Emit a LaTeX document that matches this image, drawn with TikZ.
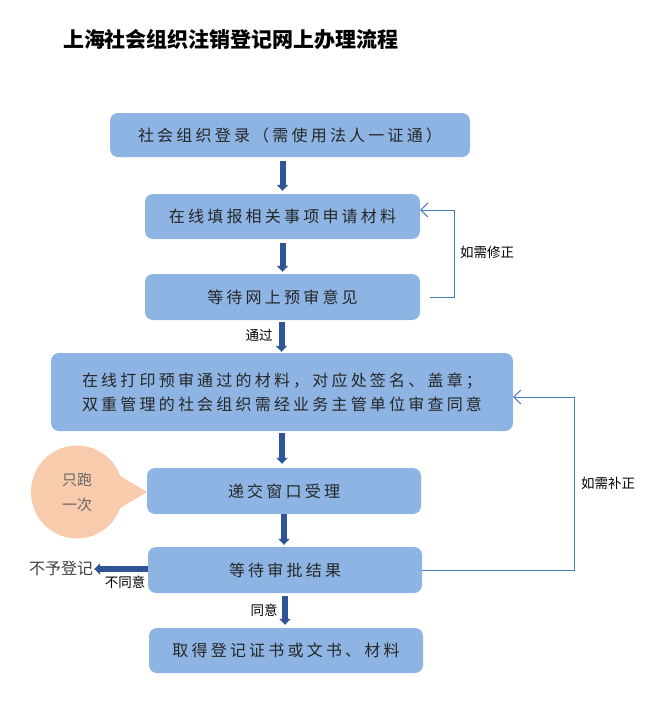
\documentclass[tikz,border=0pt]{standalone}
\usepackage{fontspec}
\newfontfamily\cjk{Noto Sans CJK SC}
\newfontfamily\cjkls[LetterSpace=20]{Noto Sans CJK SC}
\usetikzlibrary{arrows.meta,shapes.callouts,calc}
\definecolor{boxblue}{HTML}{8DB4E3}
\definecolor{arrowblue}{HTML}{2F5597}
\definecolor{lineblue}{HTML}{4A7EBB}
\definecolor{peach}{HTML}{F8CBAD}
\definecolor{txt}{HTML}{262626}
\tikzset{
  stepbox/.style={fill=boxblue, rounded corners=8pt, inner sep=0pt, text=txt,
    font=\cjkls\fontsize{16}{24}\selectfont},
  bigarrow/.style={draw=arrowblue, line width=6pt, -{Triangle[length=6pt,width=11pt]}},
  backline/.style={draw=lineblue, line width=1pt, -{Straight Barb[length=7pt,width=14pt]}},
  lbl/.style={font=\cjk\fontsize{13.5}{16}\selectfont, text=black, inner sep=0pt},
}
\begin{document}
\begin{tikzpicture}[x=1pt,y=-1pt]
\useasboundingbox (0,0) rectangle (650,726);
\node[font=\cjk\bfseries\fontsize{21}{24}\selectfont] (title) at (231,40) {上海社会组织注销登记网上办理流程};

\node[stepbox, minimum width=360pt, minimum height=44pt] (b1) at (290,135) {社会组织登录（需使用法人一证通）};
\node[stepbox, minimum width=275pt, minimum height=45pt] (b2) at (282.5,216.5) {在线填报相关事项申请材料};
\node[stepbox, minimum width=275pt, minimum height=46pt] (b3) at (282.5,297) {等待网上预审意见};
\node[stepbox, minimum width=462pt, minimum height=78pt, align=left] (b4) at (282,392) {在线打印预审通过的材料，对应处签名、盖章；\\双重管理的社会组织需经业务主管单位审查同意};
\node[stepbox, minimum width=274pt, minimum height=46pt] (b5) at (284,491) {递交窗口受理};
\node[stepbox, minimum width=274pt, minimum height=46pt] (b6) at (285,570) {等待审批结果};
\node[stepbox, minimum width=274pt, minimum height=45pt] (b7) at (286,650.5) {取得登记证书或文书、材料};

\coordinate (tip) at (147,492);
\node[ellipse callout, fill=peach, minimum width=92pt, minimum height=93pt,
  callout absolute pointer={(tip)}, callout pointer arc=40, align=center, text=black!60,
  font=\cjk\fontsize{15}{25}\selectfont] (bub) at (77,492) {只跑\\一次};

\node[font=\cjk\fontsize{16}{18}\selectfont, text=black!75, inner sep=0pt] (no) at (61,568) {不予登记};

\draw[bigarrow, shorten <=4pt, shorten >=3pt] (b1.south -| b2.north) -- (b2.north);
\draw[bigarrow, shorten <=4pt, shorten >=2pt] (b2.south) -- (b3.north);
\draw[bigarrow, shorten <=2pt, shorten >=1pt] ([xshift=-1pt]b3.south) -- ([xshift=-1pt]b3.south |- b4.north);
\draw[bigarrow, shorten <=2pt, shorten >=4pt] (b4.south) -- (b4.south |- b5.north);
\draw[bigarrow, shorten <=0pt, shorten >=2pt] ([xshift=-1pt]b6.north |- b5.south) -- ([xshift=-1pt]b6.north);
\draw[bigarrow, shorten <=3pt, shorten >=3pt] (b6.south) -- (b6.south |- b7.north);
\draw[bigarrow, shorten >=1pt] ([yshift=1pt]b6.west) -- ([yshift=1pt]b6.west -| no.east);

\node[lbl] (l1) at (259,335) {通过};
\node[lbl] (l2) at (125,582) {不同意};
\node[lbl] (l3) at (264,610) {同意};

\draw[backline] ([xshift=10pt]b3.east) -- (454,297) -- (454,210) -- ([yshift=6.5pt]b2.east);
\node[lbl] (l4) at (487,252) {如需修正};
\draw[backline] (b6.east) -- (574,570) -- (574,397) -- ([yshift=-5pt]b4.east);
\node[lbl] (l5) at (608,483) {如需补正};
\end{tikzpicture}
\end{document}
